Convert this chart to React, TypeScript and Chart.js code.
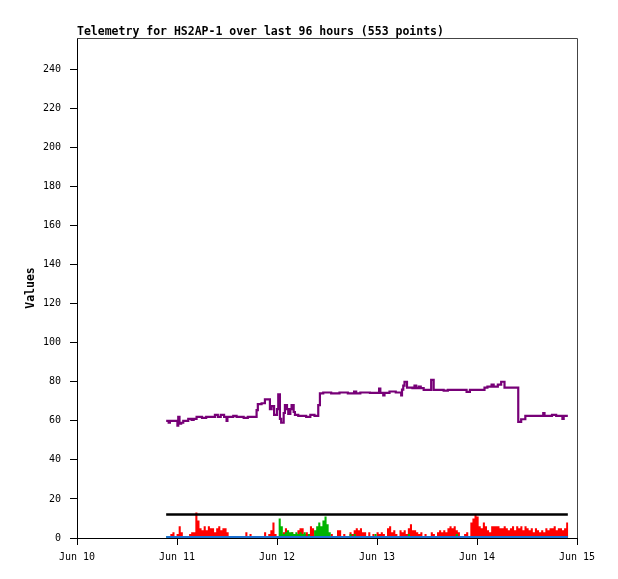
import { useEffect, useRef } from 'react';
import { Chart, registerables } from 'chart.js';

Chart.register(...registerables);

const titleText = 'Telemetry for HS2AP-1 over last 96 hours (553 points)';
const yAxisTitle = 'Values';

const xTickHours = [0, 24, 48, 72, 96, 120];
const xTickLabels = ['Jun 10', 'Jun 11', 'Jun 12', 'Jun 13', 'Jun 14', 'Jun 15'];
const yTickValues = [0, 20, 40, 60, 80, 100, 120, 140, 160, 180, 200, 220, 240];

const sampleStartHour = 21.4;
const sampleStepHours = 0.5;

const redValues = [
  0, 1, 2, 3, 1, 2, 6, 3, 1, 0, 1, 2, 3, 3, 13, 9, 5, 4, 6, 4, 6, 5, 5, 3,
  5, 6, 4, 5, 5, 3, 0, 0, 0, 0, 0, 1, 0, 0, 3, 1, 2, 0, 0, 0, 0, 1, 0, 3,
  1, 2, 4, 8, 2, 1, 1, 2, 3, 5, 2, 1, 3, 1, 2, 4, 5, 5, 2, 3, 2, 6, 5, 1,
  2, 0, 1, 3, 0, 1, 0, 2, 1, 0, 4, 4, 1, 2, 1, 1, 3, 2, 4, 5, 4, 5, 3, 3,
  1, 3, 1, 2, 1, 3, 2, 3, 2, 1, 5, 6, 3, 4, 2, 1, 4, 3, 4, 2, 5, 7, 4, 4,
  3, 2, 3, 1, 2, 1, 1, 3, 2, 1, 3, 4, 3, 4, 3, 5, 6, 5, 6, 4, 3, 1, 1, 2,
  3, 1, 8, 10, 12, 11, 6, 5, 8, 6, 4, 3, 6, 6, 6, 6, 5, 5, 6, 5, 4, 5, 6, 4,
  6, 5, 6, 4, 6, 5, 4, 5, 3, 5, 4, 3, 4, 3, 5, 4, 5, 5, 6, 4, 5, 5, 4, 5,
  8,
];

const greenValues = [
  1, 1, 0, 0, 0, 0, 0, 0, 0, 0, 0, 1, 0, 1, 0, 0, 0, 1, 0, 0, 0, 0, 1, 0,
  0, 0, 0, 0, 0, 0, 0, 0, 0, 0, 0, 1, 0, 0, 0, 0, 1, 0, 0, 0, 0, 0, 0, 0,
  0, 1, 0, 0, 0, 1, 10, 6, 2, 3, 4, 3, 3, 2, 3, 2, 3, 2, 3, 1, 2, 1, 1, 4,
  6, 8, 6, 9, 11, 7, 3, 1, 0, 1, 0, 1, 0, 1, 0, 1, 2, 1, 2, 0, 1, 0, 0, 0,
  0, 0, 0, 0, 2, 0, 0, 0, 1, 0, 0, 0, 0, 1, 0, 0, 0, 0, 0, 0, 2, 0, 1, 0,
  0, 0, 0, 0, 0, 0, 1, 0, 0, 0, 0, 0, 0, 1, 0, 1, 0, 0, 0, 2, 0, 0, 0, 0,
  0, 0, 0, 0, 0, 0, 0, 0, 1, 0, 0, 0, 0, 0, 0, 1, 0, 0, 0, 0, 0, 0, 1, 0,
  0, 0, 0, 0, 0, 1, 0, 0, 0, 0, 1, 0, 0, 0, 0, 1, 0, 0, 0, 0, 0, 0, 1, 0,
  0,
];

const purpleHours = [
  21.4, 22.0, 22.3, 24.1, 24.3, 24.6, 25.0, 25.5, 26.7, 27.5, 28.0, 28.7, 30.0, 31.0,
  33.1, 33.8, 34.5, 35.3, 35.9, 36.1, 37.5, 38.3, 40.0, 41.0, 43.1, 43.4, 44.3, 45.1,
  46.3, 46.7, 47.3, 48.0, 48.3, 48.7, 49.0, 49.6, 49.9, 50.4, 50.7, 51.2, 51.5, 52.0,
  52.3, 53.1, 55.0, 56.0, 57.0, 57.9, 58.3, 59.1, 61.0, 63.0, 65.0, 66.5, 67.0, 68.0,
  70.3, 72.5, 72.8, 73.5, 73.8, 75.0, 76.5, 77.8, 78.0, 78.3, 78.6, 79.2, 80.5, 81.0,
  81.4, 82.0, 82.5, 83.2, 85.0, 85.6, 88.0, 89.0, 93.5, 94.3, 97.8, 98.5, 99.5, 100.0,
  101.0, 101.8, 102.6, 105.9, 106.6, 107.6, 111.9, 112.2, 114.0, 115.0, 116.5, 116.8, 117.8,
];
const purpleValues = [
  60, 59, 60, 57.5, 62, 58.5, 59, 60, 61, 60.5, 61, 62, 61.5, 62,
  63, 62, 63, 62, 60, 62, 62.5, 62, 61.5, 62, 65.5, 68.5, 69, 71,
  66, 67.5, 63, 66, 73.5, 61, 59, 64, 68, 66, 63.5, 66, 68, 64.5,
  63, 62.5, 62, 63, 62.5, 68, 74, 74.5, 74, 74.5, 74, 75, 74, 74.5,
  74.3, 76.5, 74.3, 73, 74.3, 75, 74.5, 73, 76, 78, 80, 77, 76.7, 78,
  76.7, 77.5, 76.7, 75.8, 81, 75.8, 75.5, 75.8, 74.8, 75.8, 77, 77.5, 78.5, 77.5,
  78.5, 80, 77, 59.5, 60.8, 62.5, 64, 62.5, 63, 62.5, 61, 62.5, 62.5,
];

const thresholdHours = [21.4, 117.8];
const thresholdValues = [12, 12];
const baseHours = [21.4, 117.8];
const baseValues = [0.4, 0.4];

function sampled(values: number[]) {
  const pts = values.map((v, i) => ({ x: sampleStartHour + i * sampleStepHours, y: v }));
  pts.push({ x: sampleStartHour + values.length * sampleStepHours, y: values[values.length - 1] });
  return pts;
}

function pairs(xs: number[], ys: number[]) {
  return xs.map((x, i) => ({ x, y: ys[i] }));
}

const framePlugin = {
  id: 'frameAndTitles',
  afterDraw(chart: any) {
    const { ctx, chartArea } = chart;
    const { left, right, top, bottom } = chartArea;
    ctx.save();
    ctx.strokeStyle = '#444444';
    ctx.lineWidth = 1;
    ctx.beginPath();
    ctx.moveTo(left, top + 0.5);
    ctx.lineTo(right + 0.5, top + 0.5);
    ctx.lineTo(right + 0.5, bottom);
    ctx.stroke();

    ctx.fillStyle = '#000000';
    ctx.font = 'bold 11.5px "DejaVu Sans Mono"';
    ctx.textAlign = 'left';
    ctx.textBaseline = 'alphabetic';
    ctx.fillText(titleText, left, top - 3);

    ctx.translate(31, (top + bottom) / 2);
    ctx.rotate(-Math.PI / 2);
    ctx.textAlign = 'center';
    ctx.textBaseline = 'middle';
    ctx.fillText(yAxisTitle, 0, 0);
    ctx.restore();
  },
};

export default function App() {
  const canvasRef = useRef<HTMLCanvasElement | null>(null);

  useEffect(() => {
    if (!canvasRef.current) return;
    const tickFont = { family: '"DejaVu Sans Mono"', size: 10 };
    const chart = new Chart(canvasRef.current, {
      type: 'line',
      data: {
        datasets: [
          {
            label: 'base',
            data: pairs(baseHours, baseValues),
            borderColor: '#1b70d2',
            borderWidth: 2.5,
            pointRadius: 0,
          },
          {
            label: 'purple',
            data: pairs(purpleHours, purpleValues),
            borderColor: '#770077',
            borderWidth: 2.2,
            stepped: true,
            pointRadius: 0,
          },
          {
            label: 'threshold',
            data: pairs(thresholdHours, thresholdValues),
            borderColor: '#000000',
            borderWidth: 2.5,
            pointRadius: 0,
          },
          {
            label: 'green',
            data: sampled(greenValues),
            borderColor: 'rgba(0,0,0,0)',
            borderWidth: 0,
            backgroundColor: '#00b400',
            fill: 'origin',
            stepped: true,
            pointRadius: 0,
          },
          {
            label: 'red',
            data: sampled(redValues),
            borderColor: 'rgba(0,0,0,0)',
            borderWidth: 0,
            backgroundColor: '#ff0000',
            fill: 'origin',
            stepped: true,
            pointRadius: 0,
          },
        ],
      },
      options: {
        animation: false,
        responsive: false,
        layout: { padding: { top: 38, right: 41, left: 0, bottom: 0 } },
        plugins: { legend: { display: false }, tooltip: { enabled: false }, title: { display: false } },
        elements: { point: { radius: 0 }, line: { tension: 0 } },
        scales: {
          x: {
            type: 'linear',
            min: 0,
            max: 120,
            afterBuildTicks: (s: any) => {
              s.ticks = xTickHours.map((v) => ({ value: v }));
            },
            afterFit: (s: any) => {
              s.height = 41;
            },
            ticks: {
              callback: (_v: any, i: number) => xTickLabels[i],
              font: tickFont,
              color: '#000000',
              padding: 6,
              maxRotation: 0,
              autoSkip: false,
            },
            grid: { drawOnChartArea: false, drawTicks: true, tickLength: 7, tickColor: '#000000' },
            border: { display: true, color: '#000000', width: 1 },
          },
          y: {
            type: 'linear',
            min: 0,
            max: 256,
            afterBuildTicks: (s: any) => {
              s.ticks = yTickValues.map((v) => ({ value: v }));
            },
            afterFit: (s: any) => {
              s.width = 77;
            },
            ticks: {
              callback: (_v: any, i: number) => String(yTickValues[i]),
              font: tickFont,
              color: '#000000',
              padding: 9,
              autoSkip: false,
            },
            grid: { drawOnChartArea: false, drawTicks: true, tickLength: 7, tickColor: '#000000' },
            border: { display: true, color: '#000000', width: 1 },
          },
        },
      },
      plugins: [framePlugin],
    });
    return () => chart.destroy();
  }, []);

  return (
    <canvas
      ref={canvasRef}
      width={618}
      height={579}
      style={{ position: 'fixed', left: 0, top: 0, width: 618, height: 579 }}
    />
  );
}
